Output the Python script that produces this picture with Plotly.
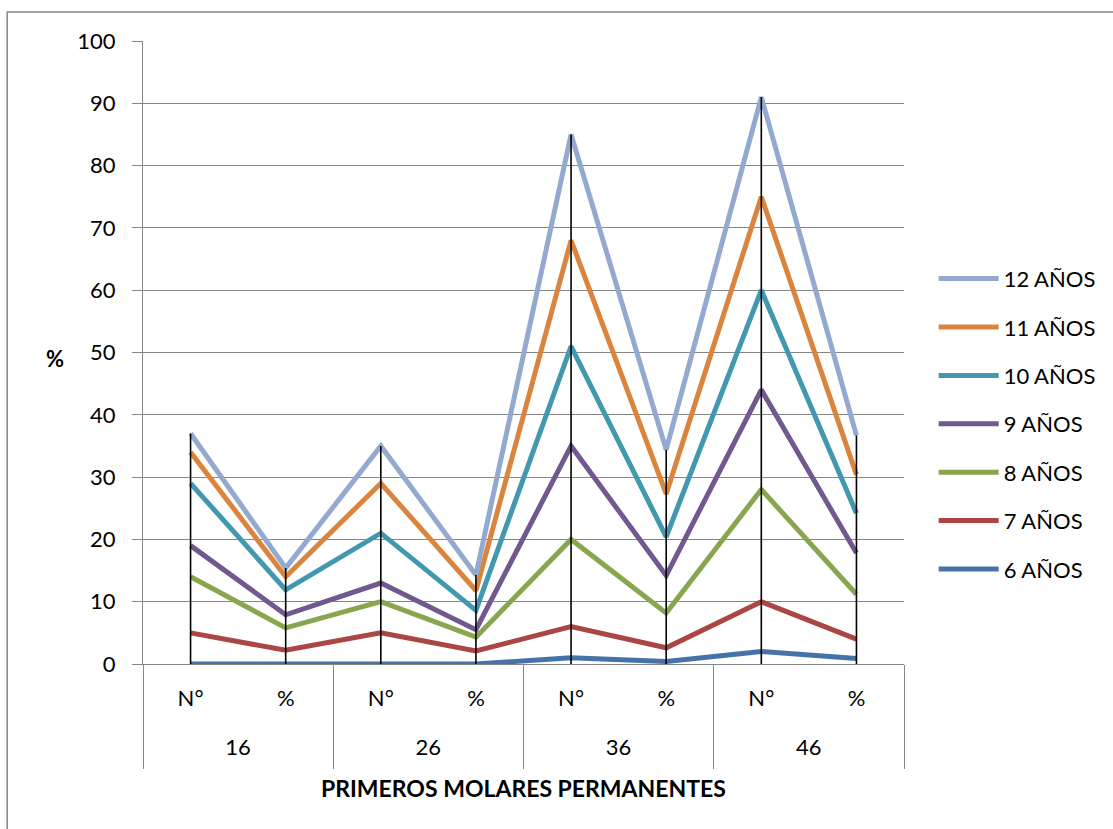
import numpy as np
import plotly.graph_objects as go

# Category axis: tooth (first permanent molar) and measure
teeth = ["16", "16", "26", "26", "36", "36", "46", "46"]
measures = ["N°", "%", "N°", "%", "N°", "%", "N°", "%"]
tooth_groups = ["16", "26", "36", "46"]

# Per-age values (stacked in the chart)
ages = ["6 AÑOS", "7 AÑOS", "8 AÑOS", "9 AÑOS", "10 AÑOS", "11 AÑOS", "12 AÑOS"]
age6 = [0, 0, 0, 0, 1, 0.4, 2, 0.9]
age7 = [5, 2.2, 5, 2.1, 5, 2.2, 8, 3.1]
age8 = [9, 3.6, 5, 2.2, 14, 5.6, 18, 7.2]
age9 = [5, 2.1, 3, 1.2, 15, 6.0, 16, 6.6]
age10 = [10, 4.0, 8, 3.1, 16, 6.2, 16, 6.4]
age11 = [5, 2.1, 8, 3.2, 17, 6.9, 15, 6.2]
age12 = [3, 1.4, 6, 2.5, 17, 7.1, 16, 6.3]
series = [age6, age7, age8, age9, age10, age11, age12]
colors = ["#4572A7", "#AA4643", "#89A54E", "#71588F", "#4198AF", "#DB843D", "#93A9CF"]

FONT = "Lato"
GRID = "#868686"
cats = [f"{t} {m}" for t, m in zip(teeth, measures)]
n = len(cats)

fig = go.Figure()
for i, (name, vals, col) in enumerate(zip(ages, series, colors)):
    fig.add_trace(go.Scatter(
        x=cats, y=vals, name=name, mode="lines",
        stackgroup="edad", fill="none",
        line=dict(color=col, width=5),
        legendgroup=name, legendrank=len(ages) - i,
        hoverinfo="skip",
    ))

# Drop lines from the top of the stack down to the axis
totals = np.sum(np.array(series), axis=0)
fig.add_trace(go.Scatter(
    x=cats, y=totals, mode="markers", showlegend=False,
    marker=dict(size=0.1, color="rgba(0,0,0,0)"),
    error_y=dict(type="data", symmetric=False, array=[0] * n,
                 arrayminus=totals, width=0, thickness=1.6, color="black"),
    hoverinfo="skip",
))

# Helper traces that carry the group dividers and the tooth labels
fig.add_trace(go.Scatter(x=[-0.5, n - 0.5], y=[0, 0], xaxis="x2", mode="none",
                         showlegend=False, hoverinfo="skip"))
fig.add_trace(go.Scatter(x=[-0.5, n - 0.5], y=[0, 0], xaxis="x3", mode="none",
                         showlegend=False, hoverinfo="skip"))

group_centers = [2 * k + 0.5 for k in range(len(tooth_groups))]
group_edges = [2 * k - 0.5 for k in range(len(tooth_groups) + 1)]

fig.update_layout(
    width=1113, height=829,
    margin=dict(l=143, r=205, t=41, b=165),
    paper_bgcolor="white", plot_bgcolor="white",
    font=dict(family=FONT, size=22, color="black"),
    showlegend=True,
    legend=dict(
        x=1.039, y=0.652, xanchor="left", yanchor="top",
        traceorder="grouped", tracegroupgap=16.8,
        font=dict(family=FONT, size=22, color="black"),
        itemwidth=60,
    ),
    xaxis=dict(
        type="category", categoryorder="array", categoryarray=cats,
        range=[-0.5, n - 0.5],
        tickvals=cats, ticktext=measures,
        showline=True, linecolor=GRID, linewidth=1,
        showgrid=False, ticks="", ticklabelstandoff=15,
        tickfont=dict(family=FONT, size=22, color="black"),
    ),
    xaxis2=dict(
        overlaying="x", anchor="y", side="bottom",
        range=[-0.5, n - 0.5], tickvals=group_edges,
        ticktext=[""] * len(group_edges),
        ticks="outside", ticklen=104, tickcolor=GRID, tickwidth=1,
        showgrid=False, showline=False, zeroline=False,
    ),
    xaxis3=dict(
        overlaying="x", anchor="y", side="bottom",
        range=[-0.5, n - 0.5], tickvals=group_centers, ticktext=tooth_groups,
        ticks="", ticklabelstandoff=68,
        showgrid=False, showline=False, zeroline=False,
        tickfont=dict(family=FONT, size=22, color="black"),
    ),
    yaxis=dict(
        range=[0, 100], dtick=10,
        showline=True, linecolor=GRID, linewidth=1,
        showgrid=True, gridcolor=GRID, gridwidth=1,
        ticks="outside", ticklen=10, tickcolor=GRID,
        ticklabelstandoff=12,
        tickfont=dict(family=FONT, size=22, color="black"),
        zeroline=False,
    ),
    annotations=[
        dict(text="<b>%</b>", xref="paper", yref="paper", x=-0.1155, y=0.49,
             xanchor="center", yanchor="middle", showarrow=False,
             font=dict(family=FONT, size=22, color="black")),
        dict(text="<b>PRIMEROS MOLARES PERMANENTES</b>", xref="paper", yref="paper",
             x=0.5, y=-0.199, xanchor="center", yanchor="middle", showarrow=False,
             font=dict(family=FONT, size=23, color="black")),
    ],
    shapes=[
        dict(type="rect", xref="paper", yref="paper", x0=-0.1785, x1=1.3,
             y0=-0.3, y1=1.0465, line=dict(color=GRID, width=1.5),
             fillcolor="rgba(0,0,0,0)", layer="below"),
    ],
)

fig.write_html("out.html")
